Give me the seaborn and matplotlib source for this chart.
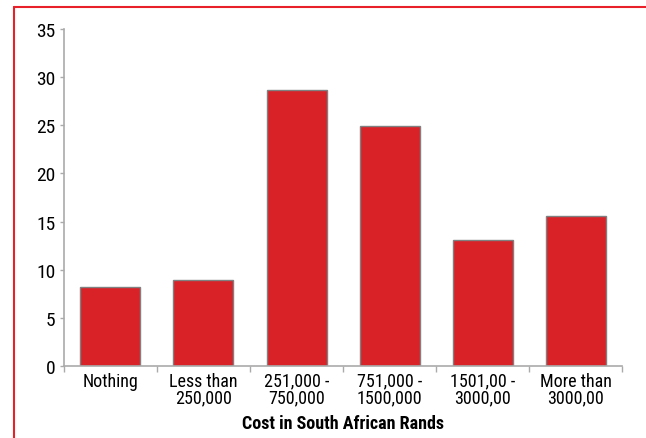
import pandas as pd
import matplotlib
matplotlib.use("Agg")
import matplotlib.pyplot as plt
from matplotlib.lines import Line2D
import seaborn as sns

# data
categories = ["Nothing", "Less than\n250,000", "251,000 -\n750,000",
              "751,000 -\n1500,000", "1501,00 -\n3000,00", "More than\n3000,00"]
values = [8.2, 8.9, 28.7, 24.9, 13.1, 15.6]
y_ticks = [0, 5, 10, 15, 20, 25, 30, 35]

df = pd.DataFrame({"cost": categories, "pct": values})

sns.set_style("white")
plt.rcParams["font.family"] = ["Roboto Condensed", "Liberation Sans Narrow", "Liberation Sans", "DejaVu Sans"]
plt.rcParams["text.color"] = "black"
plt.rcParams["xtick.color"] = "black"
plt.rcParams["ytick.color"] = "black"

fig = plt.figure(figsize=(6.46, 4.39), dpi=100)
ax = fig.add_axes([0.099, 0.164, 0.864, 0.768])

sns.barplot(data=df, x="cost", y="pct", color="#d92128", width=0.645,
            saturation=1, edgecolor="#808080", linewidth=1, ax=ax)

ax.set_ylim(0, 35)
ax.set_xlim(-0.5, len(categories) - 0.5)
ax.set_yticks(y_ticks)
ax.set_yticklabels([str(t) for t in y_ticks], fontsize=14)

# x ticks sit between categories, labels centred under bars
ax.set_xticks([i - 0.5 for i in range(len(categories) + 1)])
ax.set_xticklabels([])
ax.set_xticks(range(len(categories)), minor=True)
ax.set_xticklabels(categories, minor=True, fontsize=13, linespacing=0.9)
ax.tick_params(axis="x", which="major", length=4, width=1, color="#aaaaaa", direction="out", bottom=True)
ax.tick_params(axis="x", which="minor", length=0, pad=4, bottom=True, labelcolor="black")
ax.tick_params(axis="y", length=3, width=1, color="#aaaaaa", labelcolor="black", direction="out", left=True, pad=3)

ax.set_xlabel("Cost in South African Rands", fontsize=13, fontweight="bold", labelpad=6, color="black")
ax.set_ylabel("")

for side in ["top", "right"]:
    ax.spines[side].set_visible(False)
for side in ["left", "bottom"]:
    ax.spines[side].set_color("#aaaaaa")
    ax.spines[side].set_linewidth(1.2)

# red frame lines along the top and left of the figure
fig.add_artist(Line2D([14 / 646, 1.0], [1 - 8 / 439, 1 - 8 / 439], color="#e8202a", lw=1.5))
fig.add_artist(Line2D([14 / 646, 14 / 646], [0.0, 1 - 8 / 439], color="#e8202a", lw=1.5))

fig.savefig("out.png", dpi=100)
